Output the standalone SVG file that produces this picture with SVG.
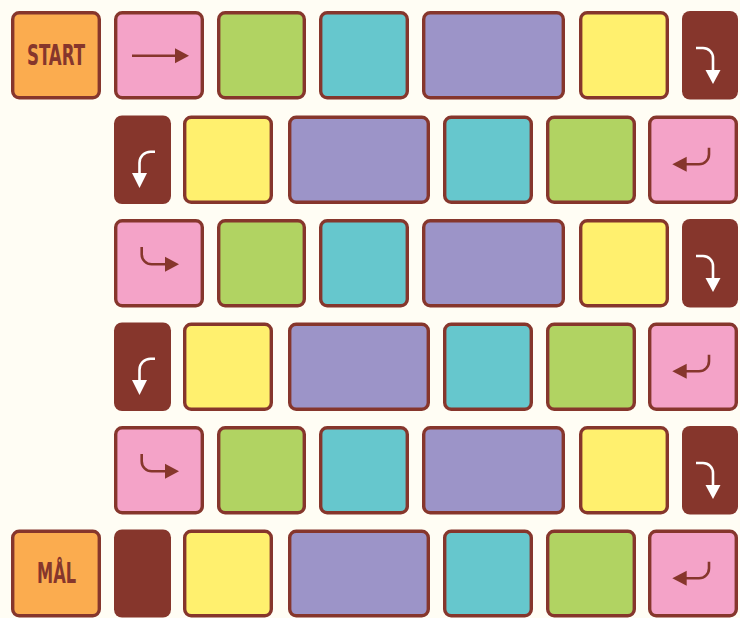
<svg xmlns="http://www.w3.org/2000/svg" xmlns:xlink="http://www.w3.org/1999/xlink" width="740" height="618" viewBox="0 0 740 618">
<style>
.t{stroke:#86362C;stroke-width:3.4}
.or{fill:#FBAC4F}.pk{fill:#F4A3C8}.gr{fill:#B1D362}.cy{fill:#66C7CD}.pu{fill:#9C94C8}.ye{fill:#FFF06E}
.dk{fill:#86362C}
.lbl{font-family:"DejaVu Sans Condensed","DejaVu Sans",sans-serif;font-weight:bold;font-size:28px;fill:#86362C;text-anchor:middle}
.ad{fill:none;stroke:#86362C;stroke-width:2.6}
.aw{fill:none;stroke:#FFFFFF;stroke-width:2.6}
</style>
<defs>
<g id="arRight"><path class="ad" d="M18 44.7H62"/><polygon fill="#86362C" points="61,37.2 75,44.7 61,52.2"/></g>
<g id="arDownR"><path class="aw" d="M14 37H21A10 10 0 0 1 31 47V60"/><polygon fill="#FFFFFF" points="23.5,59 38.5,59 31,73"/></g>
<g id="arDownL"><path class="aw" d="M41 36.2H36.5A11 11 0 0 0 25.5 47.2V58.5"/><polygon fill="#FFFFFF" points="18,57.5 33,57.5 25.5,72.5"/></g>
<g id="arBack"><path class="ad" d="M61 32.2V38.8A10 10 0 0 1 51 48.8H37.7"/><polygon fill="#86362C" points="38.7,41.3 24.3,48.8 38.7,56.3"/></g>
<g id="arTurnR"><path class="ad" d="M27.7 28V35.3A10 10 0 0 0 37.7 45.3H52"/><polygon fill="#86362C" points="51,37.8 65,45.3 51,52.8"/></g>
</defs>
<rect width="740" height="618" fill="#FFFDF4"/>

<!-- Row 1 -->
<g id="start"><rect class="t or" x="12.7" y="12.7" width="86.6" height="85.1" rx="6.5"/><text class="lbl" x="56" y="65" textLength="58" lengthAdjust="spacingAndGlyphs">START</text></g>
<g id="r1c1"><rect class="t pk" x="115.7" y="12.7" width="86.6" height="85.1" rx="6.5"/><use xlink:href="#arRight" transform="translate(114,11)"/></g>
<g id="r1c2"><rect class="t gr" x="218.7" y="12.7" width="85.6" height="85.1" rx="6.5"/></g>
<g id="r1c3"><rect class="t cy" x="320.7" y="12.7" width="86.6" height="85.1" rx="6.5"/></g>
<g id="r1c4"><rect class="t pu" x="423.7" y="12.7" width="139.6" height="85.1" rx="6.5"/></g>
<g id="r1c5"><rect class="t ye" x="580.7" y="12.7" width="86.6" height="85.1" rx="6.5"/></g>
<g id="r1c6"><rect class="dk" x="682" y="11" width="56" height="88.5" rx="8"/><use xlink:href="#arDownR" transform="translate(682,11)"/></g>

<!-- Row 2 -->
<g id="r2c1"><rect class="dk" x="114" y="115.5" width="57" height="88.5" rx="8"/><use xlink:href="#arDownL" transform="translate(114,115.5)"/></g>
<g id="r2c2"><rect class="t ye" x="184.7" y="117.2" width="86.6" height="85.1" rx="6.5"/></g>
<g id="r2c3"><rect class="t pu" x="289.7" y="117.2" width="138.6" height="85.1" rx="6.5"/></g>
<g id="r2c4"><rect class="t cy" x="444.7" y="117.2" width="86.6" height="85.1" rx="6.5"/></g>
<g id="r2c5"><rect class="t gr" x="547.7" y="117.2" width="86.6" height="85.1" rx="6.5"/></g>
<g id="r2c6"><rect class="t pk" x="649.7" y="117.2" width="86.6" height="85.1" rx="6.5"/><use xlink:href="#arBack" transform="translate(648,115.5)"/></g>

<!-- Row 3 -->
<g id="r3c1"><rect class="t pk" x="115.7" y="220.7" width="86.6" height="85.1" rx="6.5"/><use xlink:href="#arTurnR" transform="translate(114,219)"/></g>
<g id="r3c2"><rect class="t gr" x="218.7" y="220.7" width="85.6" height="85.1" rx="6.5"/></g>
<g id="r3c3"><rect class="t cy" x="320.7" y="220.7" width="86.6" height="85.1" rx="6.5"/></g>
<g id="r3c4"><rect class="t pu" x="423.7" y="220.7" width="139.6" height="85.1" rx="6.5"/></g>
<g id="r3c5"><rect class="t ye" x="580.7" y="220.7" width="86.6" height="85.1" rx="6.5"/></g>
<g id="r3c6"><rect class="dk" x="682" y="219" width="56" height="88.5" rx="8"/><use xlink:href="#arDownR" transform="translate(682,219)"/></g>

<!-- Row 4 -->
<g id="r4c1"><rect class="dk" x="114" y="322.5" width="57" height="88.5" rx="8"/><use xlink:href="#arDownL" transform="translate(114,322.5)"/></g>
<g id="r4c2"><rect class="t ye" x="184.7" y="324.2" width="86.6" height="85.1" rx="6.5"/></g>
<g id="r4c3"><rect class="t pu" x="289.7" y="324.2" width="138.6" height="85.1" rx="6.5"/></g>
<g id="r4c4"><rect class="t cy" x="444.7" y="324.2" width="86.6" height="85.1" rx="6.5"/></g>
<g id="r4c5"><rect class="t gr" x="547.7" y="324.2" width="86.6" height="85.1" rx="6.5"/></g>
<g id="r4c6"><rect class="t pk" x="649.7" y="324.2" width="86.6" height="85.1" rx="6.5"/><use xlink:href="#arBack" transform="translate(648,322.5)"/></g>

<!-- Row 5 -->
<g id="r5c1"><rect class="t pk" x="115.7" y="427.7" width="86.6" height="85.1" rx="6.5"/><use xlink:href="#arTurnR" transform="translate(114,426)"/></g>
<g id="r5c2"><rect class="t gr" x="218.7" y="427.7" width="85.6" height="85.1" rx="6.5"/></g>
<g id="r5c3"><rect class="t cy" x="320.7" y="427.7" width="86.6" height="85.1" rx="6.5"/></g>
<g id="r5c4"><rect class="t pu" x="423.7" y="427.7" width="139.6" height="85.1" rx="6.5"/></g>
<g id="r5c5"><rect class="t ye" x="580.7" y="427.7" width="86.6" height="85.1" rx="6.5"/></g>
<g id="r5c6"><rect class="dk" x="682" y="426" width="56" height="88.5" rx="8"/><use xlink:href="#arDownR" transform="translate(682,426)"/></g>

<!-- Row 6 -->
<g id="goal"><rect class="t or" x="12.7" y="531.2" width="86.6" height="84.6" rx="6.5"/><text class="lbl" x="56.5" y="583" textLength="39" lengthAdjust="spacingAndGlyphs">MÅL</text></g>
<g id="r6c1"><rect class="dk" x="114" y="529.5" width="57" height="88" rx="8"/></g>
<g id="r6c2"><rect class="t ye" x="184.7" y="531.2" width="86.6" height="84.6" rx="6.5"/></g>
<g id="r6c3"><rect class="t pu" x="289.7" y="531.2" width="138.6" height="84.6" rx="6.5"/></g>
<g id="r6c4"><rect class="t cy" x="444.7" y="531.2" width="86.6" height="84.6" rx="6.5"/></g>
<g id="r6c5"><rect class="t gr" x="547.7" y="531.2" width="86.6" height="84.6" rx="6.5"/></g>
<g id="r6c6"><rect class="t pk" x="649.7" y="531.2" width="86.6" height="84.6" rx="6.5"/><use xlink:href="#arBack" transform="translate(648,529.5)"/></g>
</svg>
